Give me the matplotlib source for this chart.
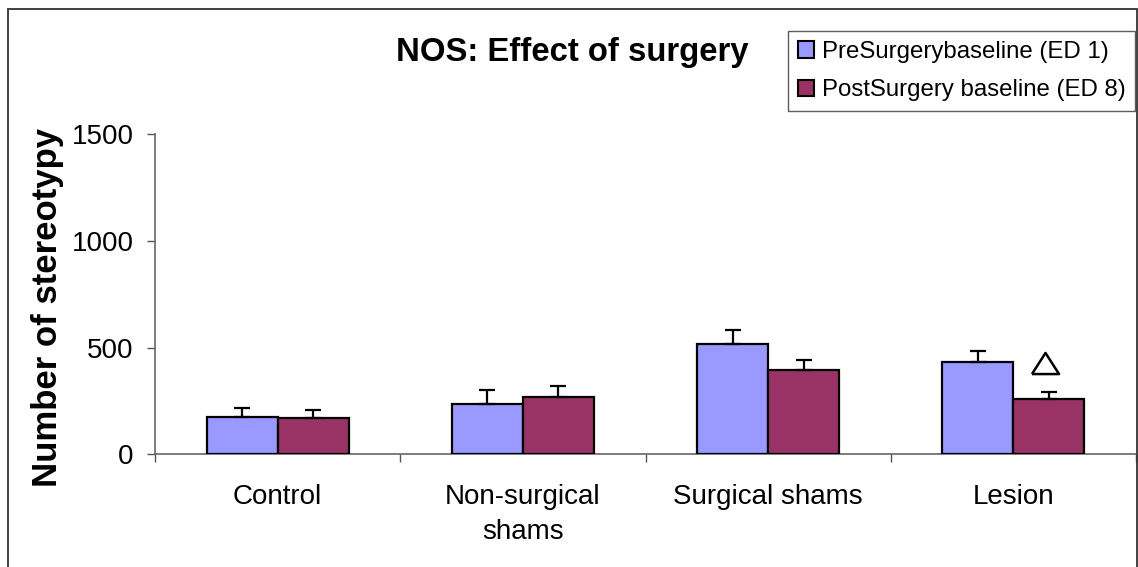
import matplotlib
matplotlib.use("Agg")
import matplotlib.pyplot as plt
from matplotlib.patches import Rectangle, Patch
import numpy as np

categories = ["Control", "Non-surgical\nshams", "Surgical shams", "Lesion"]
series_names = ["PreSurgerybaseline (ED 1)", "PostSurgery baseline (ED 8)"]
pre_values = [176, 234, 516, 431]
pre_errors = [40, 66, 65, 55]
post_values = [169, 270, 394, 261]
post_errors = [39, 49, 47, 30]
y_ticks = [0, 500, 1000, 1500]
marker_category = 3
marker_value = 426

plt.rcParams['font.family'] = ['Liberation Sans', 'DejaVu Sans']

W, H = 1138, 567
fig = plt.figure(figsize=(W / 100, H / 100), dpi=100)
fig.patch.set_facecolor('white')

ax = fig.add_axes([155 / W, 1 - 454.3 / H, (1136 - 155) / W, (454.3 - 134.3) / H])

x = np.arange(len(categories))
bw = 0.29
c_pre = '#9999FF'
c_post = '#993366'
ekw = dict(ecolor='black', elinewidth=1.6, capsize=5.5, capthick=1.6)
ax.bar(x - bw / 2, pre_values, bw, color=c_pre, edgecolor='black', linewidth=1.6,
       yerr=[np.zeros(len(x)), pre_errors], error_kw=ekw, zorder=3)
ax.bar(x + bw / 2, post_values, bw, color=c_post, edgecolor='black', linewidth=1.6,
       yerr=[np.zeros(len(x)), post_errors], error_kw=ekw, zorder=3)

tri = [(-1, -0.78), (1, -0.78), (0, 0.78), (-1, -0.78)]
ax.plot([marker_category + bw / 2 - 0.015], [marker_value], marker=tri, markersize=19.5,
        markerfacecolor='white', markeredgecolor='black', markeredgewidth=1.8,
        linestyle='none', zorder=4)

ax.set_xlim(-0.5, len(categories) - 0.5)
ax.set_ylim(0, 1500)
ax.set_yticks(y_ticks)
ax.set_yticklabels([str(v) for v in y_ticks], fontsize=20)
ax.tick_params(axis='y', direction='out', length=5.5, width=1, color='#555555', pad=10)

ax.set_xticks(np.arange(-0.5, len(categories), 1.0))
ax.set_xticklabels([])
ax.tick_params(axis='x', which='major', direction='out', length=5.5, width=1, color='#555555')
ax.set_xticks(x, minor=True)
ax.set_xticklabels(categories, minor=True, fontsize=20, linespacing=1.45)
ax.tick_params(axis='x', which='minor', length=0, pad=21.5)

for s in ['top', 'right']:
    ax.spines[s].set_visible(False)
for s in ['left', 'bottom']:
    ax.spines[s].set_color('#666666')
    ax.spines[s].set_linewidth(1.2)

fig.text(572 / W, 1 - 53 / H, "NOS: Effect of surgery", fontsize=23.7, fontweight='bold',
         ha='center', va='center')
fig.text(48 / W, 1 - 307 / H, "Number of stereotypy", fontsize=25, fontweight='bold',
         ha='center', va='center', rotation=90)

handles = [Patch(facecolor=c_pre, edgecolor='black', linewidth=1.5),
           Patch(facecolor=c_post, edgecolor='black', linewidth=1.5)]
leg = fig.legend(handles, series_names, loc='upper left',
                 bbox_to_anchor=(788 / W, 1 - 31 / H), fontsize=17.3,
                 handlelength=0.7, handleheight=0.7, handletextpad=0.3,
                 labelspacing=0.7, borderpad=0.4, borderaxespad=0,
                 fancybox=False, frameon=True)
leg.get_frame().set_edgecolor('#333333')
leg.get_frame().set_linewidth(1.0)

fig.add_artist(Rectangle((7.5 / W, -0.05), (1136.5 - 7.5) / W, 1.05 - 8.5 / H,
                         transform=fig.transFigure, fill=False,
                         edgecolor='#333333', linewidth=1.3))

fig.savefig("out.png", dpi=100)
